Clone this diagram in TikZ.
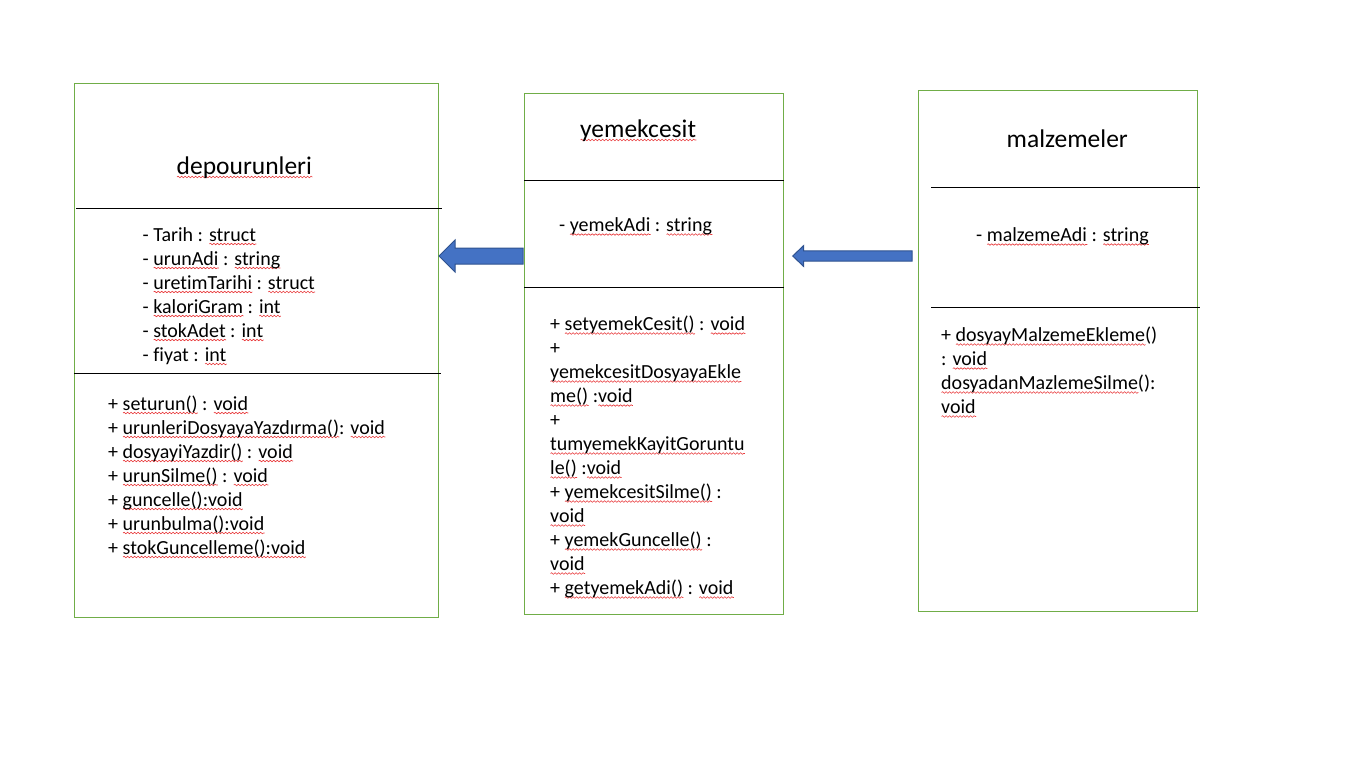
\documentclass[tikz,border=0pt]{standalone}
\usepackage{fontspec}
\setmainfont{Carlito}[Ligatures={NoCommon}]
\usetikzlibrary{calc,decorations.pathmorphing}

\definecolor{boxgreen}{HTML}{70AD47}
\definecolor{arrowblue}{HTML}{4472C4}
\definecolor{arrowedge}{HTML}{2F528F}
\definecolor{squig}{HTML}{E8393B}

\tikzset{
  classbox/.style={draw=boxgreen, line width=1pt, inner sep=0pt, anchor=north west},
  sepline/.style={draw=black, line width=1pt},
  titletext/.style={inner sep=0pt, anchor=base west, font=\fontsize{25.5}{30}\selectfont},
  % multi-line blocks are placed by the baseline of their last line
  membertext/.style={inner sep=0pt, anchor=base west, align=left, font=\fontsize{20}{24}\selectfont},
  blockarrow/.style={fill=arrowblue, draw=arrowedge, line width=1pt, line join=miter},
  squigline/.style={draw=squig, line width=0.6pt, decorate,
    decoration={snake, amplitude=0.8pt, segment length=3.5pt}},
}

% red wavy underline, as a spell checker shows it
\newlength\sqwd
\newcommand\sq[1]{\settowidth\sqwd{#1}%
  \rlap{\tikz[baseline=0pt]\draw[squigline] (0pt,-3pt) -- (\sqwd,-3pt);}#1}

\begin{document}
\begin{tikzpicture}[x=1pt, y=-1pt]
\useasboundingbox (0,0) rectangle (1367,766);

% class boxes
\node[classbox, minimum width=364pt, minimum height=534pt] (depo) at (74,83) {};
\node[classbox, minimum width=259pt, minimum height=521pt] (yemek) at (524,93) {};
\node[classbox, minimum width=279pt, minimum height=521pt] (malz) at (918,90) {};

% compartment separators
\draw[sepline] ([xshift=2pt]depo.west |- 0,208) -- ([xshift=3pt]depo.east |- 0,208);
\draw[sepline] (depo.west |- 0,373) -- ([xshift=2pt]depo.east |- 0,373);
\draw[sepline] (yemek.west |- 0,180) -- (yemek.east |- 0,180);
\draw[sepline] (yemek.west |- 0,287) -- (yemek.east |- 0,287);
\draw[sepline] ([xshift=13pt]malz.west |- 0,187) -- ([xshift=2pt]malz.east |- 0,187);
\draw[sepline] ([xshift=13pt]malz.west |- 0,307) -- ([xshift=2pt]malz.east |- 0,307);

% depourunleri
\node[titletext] (depotitle) at (176.5,174) {\sq{depourunleri}};
\node[membertext] (depoattr) at (142.5,361) {%
- Tarih : \sq{struct}\\
- \sq{urunAdi} : \sq{string}\\
- \sq{uretimTarihi} : \sq{struct}\\
- \sq{kaloriGram} : \sq{int}\\
- \sq{stokAdet} : \sq{int}\\
- fiyat : \sq{int}};
\node[membertext] (depoops) at (108,554) {%
+ \sq{seturun()} : \sq{void}\\
+ \sq{urunleriDosyayaYazdırma()}: \sq{void}\\
+ \sq{dosyayiYazdir()} : \sq{void}\\
+ \sq{urunSilme()} : \sq{void}\\
+ \sq{guncelle():void}\\
+ \sq{urunbulma():void}\\
+ \sq{stokGuncelleme():void}};

% yemekcesit
\node[titletext] (yemektitle) at (580,137) {\sq{yemekcesit}};
\node[membertext] (yemekattr) at (559,231.5) {- \sq{yemekAdi} : \sq{string}};
\node[membertext] (yemekops) at (550,594.5) {%
+ \sq{setyemekCesit()} : \sq{void}\\
+\\
\sq{yemekcesitDosyayaEkle}\\
\sq{me()} :\sq{void}\\
+\\
\sq{tumyemekKayitGoruntu}\\
\sq{le()} :\sq{void}\\
+ \sq{yemekcesitSilme()} :\\
\sq{void}\\
+ \sq{yemekGuncelle()} :\\
\sq{void}\\
+ \sq{getyemekAdi()} : \sq{void}};

% malzemeler
\node[titletext] (malztitle) at (1006.5,147.5) {malzemeler};
\node[membertext] (malzattr) at (976,241.5) {- \sq{malzemeAdi} : \sq{string}};
\node[membertext] (malzops) at (941,413.5) {%
+ \sq{dosyayMalzemeEkleme}()\\
: \sq{void}\\
\sq{dosyadanMazlemeSilme}():\\
\sq{void}};

% block arrows between the classes
\coordinate (a1tip) at (depo.east |- 0,256);
\coordinate (a1tail) at ([xshift=-1pt]yemek.west |- 0,256);
\filldraw[blockarrow] (a1tip) -- ++(16,-16) -- ++(0,8) -- ($(a1tail)+(0,-8)$)
  -- ($(a1tail)+(0,8)$) -- ($(a1tip)+(16,8)$) -- ++(0,8) -- cycle;

\coordinate (a2tip) at ([xshift=8.7pt]yemek.east |- 0,256);
\coordinate (a2tail) at ([xshift=-6pt]malz.west |- 0,256);
\filldraw[blockarrow] (a2tip) -- ++(11,-10.5) -- ++(0,5.3) -- ($(a2tail)+(0,-5.2)$)
  -- ($(a2tail)+(0,5.2)$) -- ($(a2tip)+(11,5.2)$) -- ++(0,5.3) -- cycle;
\end{tikzpicture}
\end{document}
